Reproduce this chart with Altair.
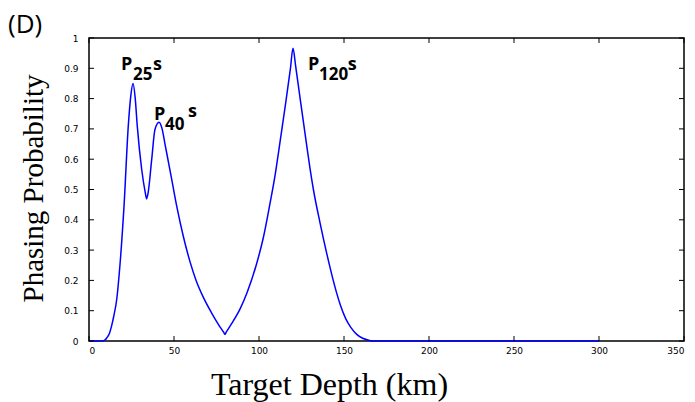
import altair as alt
import pandas as pd

# Phasing probability versus target depth
depth = [0, 5, 8, 9.5, 10.4, 12, 13.3, 14.5, 16.3, 18.2,
         20.6, 23.1, 24.6, 25.9, 27.2, 28.4, 31, 33.1, 33.9, 34.8,
         36.9, 38.8, 41.2, 43, 44.7, 48.6, 51.6, 55.5, 59.4, 63,
         67.2, 72, 76, 79.2, 80, 80.8, 84, 88.8, 93, 98.6,
         102.5, 106.5, 109.4, 111.2, 115.3, 118.5, 120, 121.5, 124.2, 128.2,
         130, 132, 135.9, 140, 143, 145.7, 148, 151, 154, 157.5,
         161, 165, 168, 200, 250, 300]
prob = [0, 0, 0, 0.004, 0.01, 0.025, 0.05, 0.08, 0.137, 0.25,
        0.445, 0.709, 0.81, 0.85, 0.80, 0.709, 0.566, 0.49, 0.469, 0.49,
        0.6, 0.698, 0.722, 0.70, 0.65, 0.535, 0.445, 0.345, 0.262, 0.2,
        0.145, 0.094, 0.056, 0.029, 0.022, 0.03, 0.058, 0.105, 0.16, 0.255,
        0.34, 0.455, 0.545, 0.612, 0.77, 0.9, 0.966, 0.91, 0.8, 0.64,
        0.57, 0.5, 0.39, 0.285, 0.215, 0.158, 0.116, 0.074, 0.045, 0.022,
        0.009, 0.002, 0, 0, 0, 0]

# Tick positions
x_ticks = [0, 50, 100, 150, 200, 250, 300, 350]
y_ticks = [0, 0.1, 0.2, 0.3, 0.4, 0.5, 0.6, 0.7, 0.8, 0.9, 1]

# Peak annotations (P with subscript depth and trailing s)
label_text = ["P", "25", "s", "P", "40", "s", "P", "120", "s"]
label_depth = [18.8, 25.9, 37.6, 38.2, 44.7, 58.2, 128.8, 135.3, 152.2]
label_prob = [0.896, 0.863, 0.896, 0.731, 0.698, 0.738, 0.896, 0.863, 0.896]
label_size = [18, 17, 18, 18, 17, 18, 18, 17, 18]

W, H = 595, 303
TICK = 5

curve_df = pd.DataFrame({"depth": depth, "prob": prob})
xt_df = pd.DataFrame({"depth": x_ticks})
yt_df = pd.DataFrame({"prob": y_ticks})
lab_df = pd.DataFrame({"text": label_text, "depth": label_depth,
                       "prob": label_prob, "fs": label_size})

x_scale = alt.Scale(domain=[0, 350], nice=False, zero=False)
y_scale = alt.Scale(domain=[0, 1], nice=False, zero=False)

x_axis = alt.Axis(
    values=x_ticks, tickSize=0, domain=False, grid=False, labelOverlap=False,
    labelFont="DejaVu Sans", labelFontSize=9, labelColor="black", labelPadding=5,
    title="Target Depth (km)", titleFont="Liberation Serif", titleFontSize=32,
    titleFontWeight="normal", titleColor="black",
    titleX=240, titleY=53, titleAlign="center", titleBaseline="alphabetic",
)
y_axis = alt.Axis(
    values=y_ticks, format=".1~f", tickSize=0, domain=False, grid=False,
    labelOverlap=False,
    labelFont="DejaVu Sans", labelFontSize=9, labelColor="black", labelPadding=11,
    title="Phasing Probability", titleFont="Liberation Serif", titleFontSize=29,
    titleFontWeight="normal", titleColor="black",
    titleAngle=270, titleX=-47, titleY=150, titleAlign="center",
    titleBaseline="alphabetic",
)

# Every layer carries the same axis definition so the merged axes agree
X = alt.X("depth:Q", scale=x_scale, axis=x_axis)
Y = alt.Y("prob:Q", scale=y_scale, axis=y_axis)

curve = alt.Chart(curve_df).mark_line(
    color="#0000ff", strokeWidth=1.5, interpolate="monotone"
).encode(x=X, y=Y)

# Inward-pointing ticks on all four sides of the box
tick_style = dict(color="black", strokeWidth=1)
bottom_ticks = alt.Chart(xt_df).mark_rule(**tick_style).encode(
    x=X, y=alt.value(H), y2=alt.value(H - TICK))
top_ticks = alt.Chart(xt_df).mark_rule(**tick_style).encode(
    x=X, y=alt.value(0), y2=alt.value(TICK))
left_ticks = alt.Chart(yt_df).mark_rule(**tick_style).encode(
    y=Y, x=alt.value(0), x2=alt.value(TICK))
right_ticks = alt.Chart(yt_df).mark_rule(**tick_style).encode(
    y=Y, x=alt.value(W), x2=alt.value(W - TICK))

labels = alt.Chart(lab_df).mark_text(
    font="Open Sans", fontWeight="bold", color="black",
    align="left", baseline="alphabetic"
).encode(
    x=X, y=Y,
    text="text:N",
    size=alt.Size("fs:Q", scale=None, legend=None),
)

panel_tag = alt.Chart(pd.DataFrame({"t": ["(D)"]})).mark_text(
    font="Open Sans", fontSize=26, color="black",
    align="left", baseline="alphabetic"
).encode(x=alt.value(-81), y=alt.value(-5), text="t:N")

chart = alt.layer(
    curve, bottom_ticks, top_ticks, left_ticks, right_ticks, labels, panel_tag
).properties(
    width=W, height=H,
    padding={"left": 89, "top": 38, "right": 11, "bottom": 61},
    autosize=alt.AutoSizeParams(type="none"),
    background="white",
).configure_view(
    stroke="black", strokeWidth=1.5
)

chart.save("out.html", embed_options={"renderer": "svg", "actions": False})
